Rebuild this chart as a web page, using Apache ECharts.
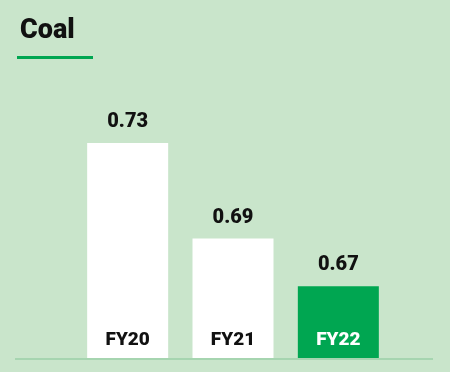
<!DOCTYPE html>
<html><head><meta charset="utf-8">
<script src="https://cdn.jsdelivr.net/npm/echarts@6/dist/echarts.min.js"></script>
<style>html,body{margin:0;padding:0;background:#c9e5cb;}#c{width:450px;height:372px;}</style>
</head><body><div id="c"></div>
<script>
const categories = ['FY20', 'FY21', 'FY22'];
const values = [0.73, 0.69, 0.67];
const title = 'Coal';
const highlightIndex = 2;

const GREEN = '#00a651';
const chart = echarts.init(document.getElementById('c'));
chart.setOption({
  backgroundColor: '#c9e5cb',
  animation: false,
  title: {
    text: title, left: 15, top: 13,
    textStyle: { fontFamily: 'Roboto', fontWeight: 900, fontSize: 27, color: '#111' }
  },
  graphic: [
    { type: 'rect', shape: { x: 17, y: 56, width: 76, height: 3 }, style: { fill: GREEN } },
    { type: 'rect', shape: { x: 15, y: 358, width: 418, height: 2 }, style: { fill: '#a6d5b0' } }
  ],
  grid: { left: 75, right: 59, top: 119, bottom: 14 },
  xAxis: {
    type: 'category', data: categories, z: 10,
    axisLine: { show: false }, axisTick: { show: false },
    axisLabel: {
      inside: true, margin: 8,
      fontFamily: 'Roboto', fontWeight: 900, fontSize: 19,
      color: (v, i) => (i === highlightIndex ? '#fff' : '#111')
    }
  },
  yAxis: { type: 'value', min: 0.64, max: 0.74, show: false, splitLine: { show: false } },
  series: [{
    type: 'bar', barWidth: 81,
    data: values.map((v, i) => ({ value: v, itemStyle: { color: i === highlightIndex ? GREEN : '#fff' } })),
    label: {
      show: true, position: 'top', distance: 11,
      fontFamily: 'Roboto', fontWeight: 900, fontSize: 20, color: '#111',
      formatter: p => p.value.toFixed(2)
    }
  }]
});
</script></body></html>
